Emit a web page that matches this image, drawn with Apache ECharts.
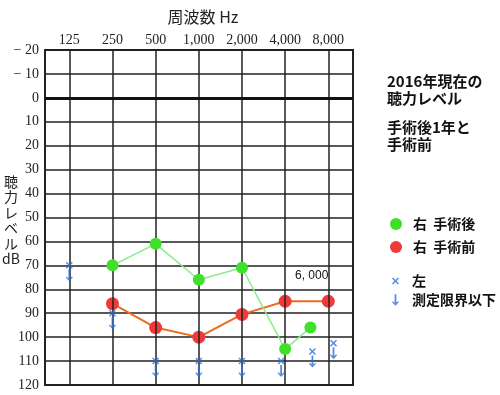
<!DOCTYPE html>
<html>
<head>
<meta charset="utf-8">
<script src="https://cdn.jsdelivr.net/npm/echarts@6/dist/echarts.min.js"></script>
<style>html,body{margin:0;padding:0;background:#fff}#c{width:500px;height:395px}</style>
</head>
<body>
<div id="c"></div>
<script>
// Frequency ticks (Hz) and their labels
const freqTicks = [125, 250, 500, 1000, 2000, 4000, 8000];
const tickLabels = ['125', '250', '500', '1,000', '2,000', '4,000', '8,000'];
// Right ear after surgery
const rightAfterFreq = [250, 500, 1000, 2000, 4000, 6000];
const rightAfterDb = [70, 61, 76, 71, 105, 96];
// Right ear before surgery
const rightBeforeFreq = [250, 500, 1000, 2000, 4000, 8000];
const rightBeforeDb = [86, 96, 100, 90.5, 85, 85];
// Left ear (below measurement limit)
const leftFreq = [125, 250, 500, 1000, 2000, 3750, 6200, 8700];
const leftDb = [70, 90, 110, 110, 110, 110, 106, 102.5];

const pos = f => Math.log2(f / 125);
const pair = (fs, vs) => fs.map((f, i) => [pos(f), vs[i]]);

const X_PATH = 'path://M0,1.5L1.5,0L5,3.5L8.5,0L10,1.5L6.5,5L10,8.5L8.5,10L5,6.5L1.5,10L0,8.5L3.5,5Z';
const ARROW_PATH = 'path://M2.6,0H4.4V8.6L6.1,6.9L7,7.8L3.5,11.5L0,7.8L0.9,6.9L2.6,8.6Z';
const BLUE = '#2a6fdb';
const GREEN = '#3ee02a';
const RED = '#ef3a3a';
const CJK = '"Noto Sans CJK JP", sans-serif';

const chart = echarts.init(document.getElementById('c'), null, {renderer: 'canvas'});
chart.setOption({
  animation: false,
  backgroundColor: '#fff',
  title: [
    {text: '2016年現在の\n聴力レベル', left: 382, top: 68,
     textStyle: {fontFamily: CJK, fontSize: 15, fontWeight: 'bold', color: '#111', lineHeight: 17}},
    {text: '手術後1年と\n手術前', left: 382, top: 114,
     textStyle: {fontFamily: CJK, fontSize: 15, fontWeight: 'bold', color: '#111', lineHeight: 17}}
  ],
  legend: [
    {orient: 'vertical', left: 385, top: 211, itemWidth: 12, itemHeight: 12, itemGap: 7,
     textStyle: {fontFamily: CJK, fontSize: 14, fontWeight: 'bold', color: '#111', lineHeight: 16, padding: [0, 0, 0, 6]},
     data: [{name: '右  手術後', icon: 'circle'}, {name: '右  手術前', icon: 'circle'}]},
    {orient: 'vertical', left: 387, top: 268, itemWidth: 7, itemHeight: 12, itemGap: 3,
     textStyle: {fontFamily: CJK, fontSize: 14, fontWeight: 'bold', color: '#111', lineHeight: 16, padding: [0, 0, 0, 8]},
     data: [{name: '左', icon: X_PATH}, {name: '測定限界以下', icon: ARROW_PATH}]}
  ],
  grid: {left: 45, top: 50, right: 147, bottom: 10, outerBoundsMode: 'none', containLabel: false,
         show: true, borderColor: '#222', borderWidth: 2, backgroundColor: 'transparent'},
  xAxis: {
    type: 'value', position: 'top', min: -0.563, max: 6.572,
    name: '周波数 Hz', nameLocation: 'middle', nameGap: 25,
    nameTextStyle: {fontFamily: CJK, fontSize: 16, color: '#222', padding: [0, 0, 0, 8]},
    axisLine: {show: false}, axisTick: {show: false}, splitLine: {show: false},
    axisLabel: {
      customValues: freqTicks.map(pos), margin: 3,
      fontFamily: '"Liberation Serif", serif', fontSize: 14, color: '#222',
      formatter: v => { const i = freqTicks.findIndex(f => Math.abs(pos(f) - v) < 1e-6); return i >= 0 ? tickLabels[i] : ''; }
    }
  },
  yAxis: {
    type: 'value', inverse: true, min: -20, max: 120, interval: 10,
    axisLine: {show: false}, axisTick: {show: false},
    axisLabel: {margin: 6, fontFamily: '"Liberation Serif", serif', fontSize: 14, color: '#222',
      formatter: v => v < 0 ? '− ' + Math.abs(v) : String(v)},
    splitLine: {lineStyle: {color: '#222', width: 1.5}}
  },
  graphic: [
    {type: 'text', x: 11, y: 220, style: {text: '聴\n力\nレ\nベ\nル\ndB', fontFamily: CJK, fontSize: 14, lineHeight: 15.5,
      fill: '#222', align: 'center', verticalAlign: 'middle'}},
    {type: 'text', left: 295, top: 270, style: {text: '6, 000', font: '12px "Liberation Sans", sans-serif', fill: '#111'}}
  ],
  series: [
    {
      type: 'line', name: 'grid', data: [], silent: true, z: 1,
      markLine: {
        silent: true, symbol: ['none', 'none'], label: {show: false}, animation: false,
        data: freqTicks.map(f => ({xAxis: pos(f), lineStyle: {color: '#222', width: 1.5, type: 'solid'}}))
          .concat([{yAxis: 0, lineStyle: {color: '#111', width: 3, type: 'solid'}}])
      }
    },
    {
      type: 'line', name: '右  手術前', data: pair(rightBeforeFreq, rightBeforeDb), z: 4,
      symbol: 'circle', symbolSize: 13,
      lineStyle: {color: '#ee6a1c', width: 2}, itemStyle: {color: RED},
      emphasis: {disabled: true}
    },
    {
      type: 'line', name: '右  手術後', data: pair(rightAfterFreq, rightAfterDb), z: 5,
      symbol: 'circle', symbolSize: 12,
      lineStyle: {color: '#86ec86', width: 1.5}, itemStyle: {color: GREEN},
      emphasis: {disabled: true}
    },
    {
      type: 'scatter', name: '左', data: pair(leftFreq, leftDb), z: 6,
      symbol: X_PATH, symbolSize: 7, itemStyle: {color: BLUE}, emphasis: {disabled: true}
    },
    {
      type: 'scatter', name: '測定限界以下', data: pair(leftFreq, leftDb), z: 6,
      symbol: ARROW_PATH, symbolSize: [7, 12], symbolOffset: [0, 10], itemStyle: {color: BLUE}, emphasis: {disabled: true}
    }
  ]
});
</script>
</body>
</html>
